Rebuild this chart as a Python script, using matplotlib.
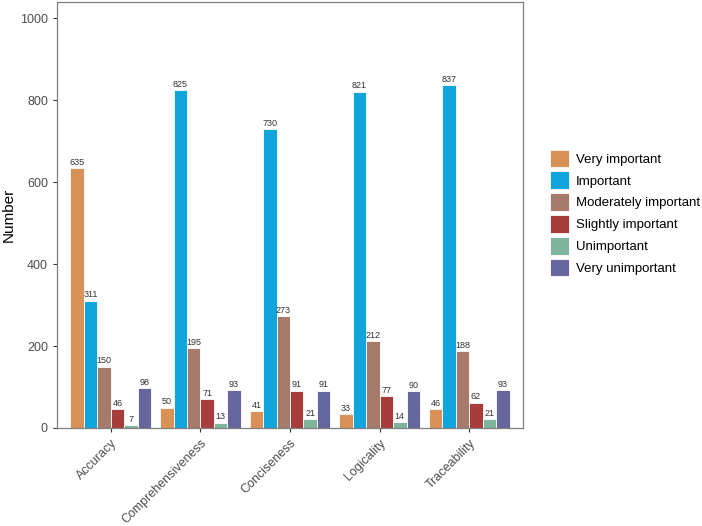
import numpy as np
import matplotlib
matplotlib.use("Agg")
import matplotlib.pyplot as plt

# Data
categories = ["Accuracy", "Comprehensiveness", "Conciseness", "Logicality", "Traceability"]
levels = ["Very important", "Important", "Moderately important",
          "Slightly important", "Unimportant", "Very unimportant"]
very_important = [635, 50, 41, 33, 46]
important = [311, 825, 730, 821, 837]
moderately = [150, 195, 273, 212, 188]
slightly = [46, 71, 91, 77, 62]
unimportant = [7, 13, 21, 14, 21]
very_unimportant = [98, 93, 91, 90, 93]
series = [very_important, important, moderately, slightly, unimportant, very_unimportant]
colors = ["#D99155", "#10A5DB", "#A77B6C", "#A83C3C", "#7FB59D", "#66669E"]

plt.rcParams['font.family'] = ['Liberation Sans', 'DejaVu Sans']

fig = plt.figure(figsize=(7.02, 5.26), dpi=100)
ax = fig.add_axes([57/702, 98/526, 466/702, 426/526])

x = np.arange(len(categories))
w = 0.9 / 6
for i, (vals, c, lab) in enumerate(zip(series, colors, levels)):
    pos = x - 0.45 + w * (i + 0.5)
    ax.bar(pos, vals, width=w, color=c, edgecolor="white", linewidth=0.6, label=lab)
    for p, v in zip(pos, vals):
        ax.text(p, v + 3, str(v), ha="center", va="bottom", fontsize=6.5, color="#333333")

ax.set_xlim(-0.6, len(categories) - 0.4)
ax.set_ylim(0, 1040)
ax.set_yticks([0, 200, 400, 600, 800, 1000])
ax.set_xticks(x)
ax.set_xticklabels(categories, rotation=45, ha="right", rotation_mode="anchor")
ax.tick_params(axis="both", colors="#333333", labelcolor="#4d4d4d", labelsize=9, length=3)
for s in ax.spines.values():
    s.set_color("#7f7f7f")
    s.set_linewidth(0.9)
ax.set_ylabel("Number", fontsize=11, color="black", labelpad=3)

ax.legend(loc="center left", bbox_to_anchor=(545/702, 1 - 213/526), bbox_transform=fig.transFigure,
          frameon=False, fontsize=9.5, handlelength=1.4, handleheight=1.7,
          handletextpad=0.55, labelspacing=0.3, borderaxespad=0)

plt.savefig("out.png", dpi=100)
